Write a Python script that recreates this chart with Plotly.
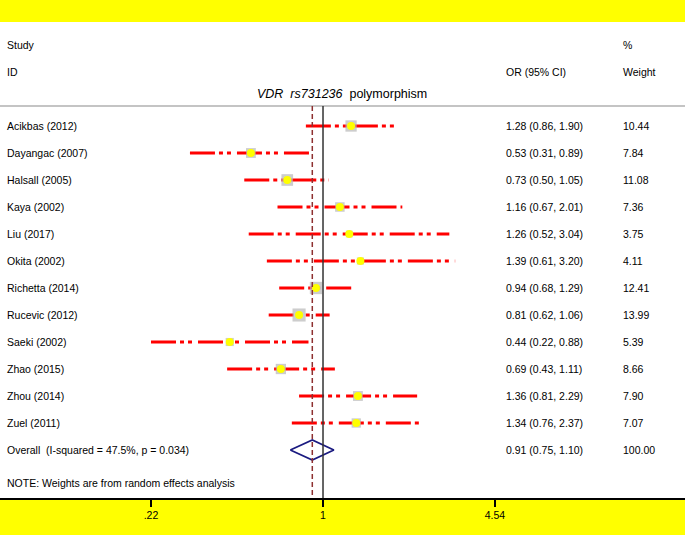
import numpy as np
import plotly.graph_objects as go

studies = ["Acikbas (2012)", "Dayangac (2007)", "Halsall (2005)", "Kaya (2002)", "Liu (2017)",
           "Okita (2002)", "Richetta (2014)", "Rucevic (2012)", "Saeki (2002)", "Zhao (2015)",
           "Zhou (2014)", "Zuel (2011)"]
odds_ratio = [1.28, 0.53, 0.73, 1.16, 1.26, 1.39, 0.94, 0.81, 0.44, 0.69, 1.36, 1.34]
ci_lower = [0.86, 0.31, 0.50, 0.67, 0.52, 0.61, 0.68, 0.62, 0.22, 0.43, 0.81, 0.76]
ci_upper = [1.90, 0.89, 1.05, 2.01, 3.04, 3.20, 1.29, 1.06, 0.88, 1.11, 2.29, 2.37]
weights = [10.44, 7.84, 11.08, 7.36, 3.75, 4.11, 12.41, 13.99, 5.39, 8.66, 7.90, 7.07]

overall_label = "Overall  (I-squared = 47.5%, p = 0.034)"
overall_or = 0.91
overall_lower = 0.75
overall_upper = 1.10
overall_weight = 100.00

tick_vals = [0.22, 1, 4.54]
tick_text = [".22", "1", "4.54"]

W, H = 685, 535
FONT = "Liberation Sans, Arial, sans-serif"
rows = list(range(len(studies)))
overall_row = len(studies)

fig = go.Figure()

# CI lines
for i in rows:
    fig.add_trace(go.Scatter(
        x=[ci_lower[i], ci_upper[i]], y=[i, i], mode="lines",
        line=dict(color="#ff0000", width=3, dash="25px,4px,4px,4px,4px,6px"),
        hoverinfo="skip", showlegend=False))

# weight boxes
fig.add_trace(go.Scatter(
    x=odds_ratio, y=rows, mode="markers",
    marker=dict(symbol="square", size=[3.5 * np.sqrt(w) for w in weights],
                color="#b8b8b8", line=dict(width=0)),
    hoverinfo="skip", showlegend=False))
# point estimates
fig.add_trace(go.Scatter(
    x=odds_ratio, y=rows, mode="markers",
    marker=dict(symbol="circle", size=8, color="#ffff00", line=dict(width=0)),
    hoverinfo="skip", showlegend=False))

# overall diamond
fig.add_trace(go.Scatter(
    x=[overall_lower, overall_or, overall_upper, overall_or, overall_lower],
    y=[overall_row, overall_row - 0.37, overall_row, overall_row + 0.37, overall_row],
    mode="lines", line=dict(color="#1a1a80", width=1.8),
    hoverinfo="skip", showlegend=False))

y_top = -3.852
y_bot = 13.778
sep_row = -0.74

shapes = [
    dict(type="line", xref="paper", yref="y", x0=0, x1=1, y0=sep_row, y1=sep_row,
         line=dict(color="#c4c4c4", width=2)),
    dict(type="line", xref="x", yref="y", x0=1, x1=1, y0=sep_row, y1=y_bot,
         line=dict(color="#333333", width=1.5)),
    dict(type="line", xref="x", yref="y", x0=overall_or, x1=overall_or, y0=sep_row, y1=y_bot,
         line=dict(color="#8e3030", width=1.5, dash="5px,3px")),
]

ann = []
def txt(x, y, s, anchor="left", size=10.5):
    ann.append(dict(xref="paper", yref="y", x=x, y=y, text=s, showarrow=False,
                    xanchor=anchor, yanchor="middle", font=dict(family=FONT, size=size, color="#000")))

lx = 5 / W
orx = 504 / W
wx = 621 / W
txt(lx, -3, "Study")
txt(wx, -3, "%")
txt(lx, -2, "ID")
txt(orx, -2, "OR (95% CI)")
txt(wx, -2, "Weight")
txt(342 / W, -1.18, "<i>VDR</i>  <i>rs731236</i>  polymorphism", anchor="center", size=12.5)
for i in rows:
    txt(lx, i, studies[i])
    txt(orx, i, f"{odds_ratio[i]:.2f} ({ci_lower[i]:.2f}, {ci_upper[i]:.2f})")
    txt(wx, i, f"{weights[i]:.2f}")
txt(lx, overall_row, overall_label)
txt(orx, overall_row, f"{overall_or:.2f} ({overall_lower:.2f}, {overall_upper:.2f})")
txt(wx, overall_row, f"{overall_weight:.2f}")
txt(lx, 13.22, "NOTE: Weights are from random effects analysis")

fig.update_layout(
    width=W, height=H,
    margin=dict(l=0, r=0, t=22, b=37),
    paper_bgcolor="#ffff00", plot_bgcolor="#ffffff",
    shapes=shapes, annotations=ann,
    font=dict(family=FONT, size=10.5, color="#000"),
    xaxis=dict(type="log", range=[-1.2348, 1.3838], tickvals=tick_vals, ticktext=tick_text,
               ticks="outside", ticklen=7, tickwidth=2, tickcolor="#000",
               showline=True, linecolor="#000", linewidth=1.5, showgrid=False, zeroline=False,
               tickfont=dict(family=FONT, size=10.5, color="#000"), fixedrange=True),
    yaxis=dict(range=[y_bot, y_top], showticklabels=False, showgrid=False, zeroline=False,
               ticks="", showline=False, fixedrange=True),
)

fig.write_html("out.html", config={"displayModeBar": False},
               post_script="document.body.style.margin='0';document.body.style.overflow='hidden';")
